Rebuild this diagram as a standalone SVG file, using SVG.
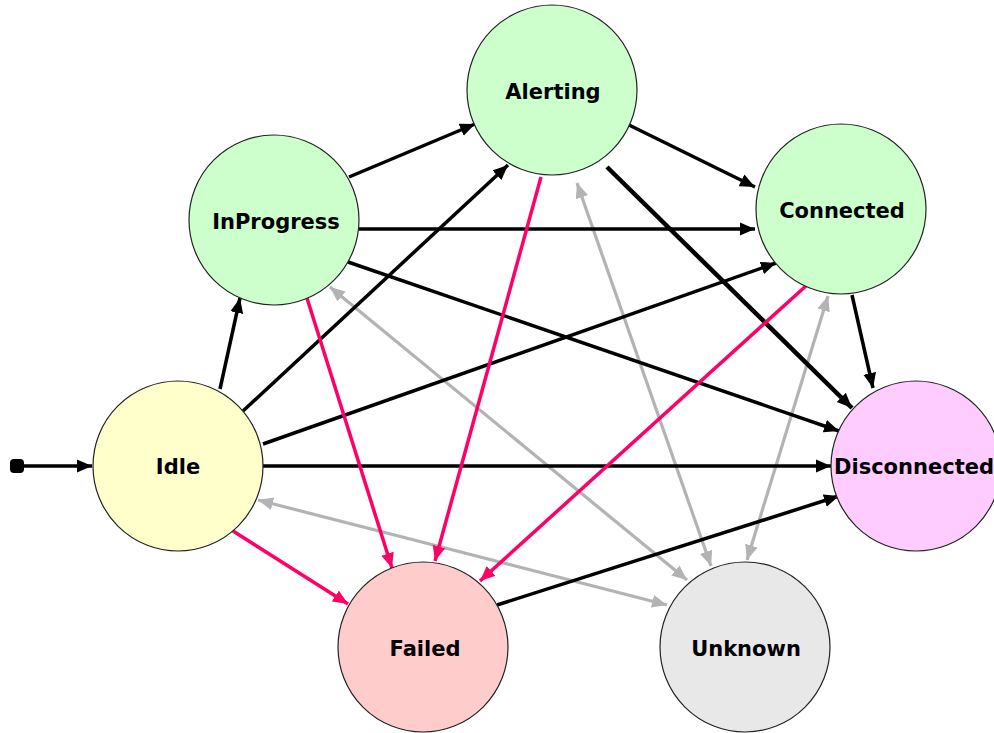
<svg xmlns="http://www.w3.org/2000/svg" width="994" height="733" viewBox="0 0 994 733">
<style>
.node circle{stroke:#222;stroke-width:1.2}
.node text{font-family:"DejaVu Sans","Liberation Sans",sans-serif;font-weight:bold;font-size:21px;text-anchor:middle;fill:#000}
.green{fill:#ccffcc}.yellow{fill:#ffffcc}.red{fill:#ffcccc}.grey{fill:#e8e8e8}.pink{fill:#ffccff}
.k{stroke:#000;stroke-width:3.5;fill:none;marker-end:url(#ak)}
.p{stroke:#ff0066;stroke-width:3.5;fill:none;marker-end:url(#ap)}
.g{stroke:#b3b3b3;stroke-width:3.2;fill:none;marker-end:url(#ag);marker-start:url(#ag)}
</style>
<defs>
<marker id="ak" markerUnits="userSpaceOnUse" markerWidth="16" markerHeight="14" refX="15" refY="6.5" orient="auto-start-reverse" viewBox="0 0 16 13"><path d="M0,0 L15,6.5 L0,13 z" fill="#000"/></marker>
<marker id="ap" markerUnits="userSpaceOnUse" markerWidth="16" markerHeight="14" refX="15" refY="6.5" orient="auto-start-reverse" viewBox="0 0 16 13"><path d="M0,0 L15,6.5 L0,13 z" fill="#ff0066"/></marker>
<marker id="ag" markerUnits="userSpaceOnUse" markerWidth="16" markerHeight="14" refX="15" refY="6.5" orient="auto-start-reverse" viewBox="0 0 16 13"><path d="M0,0 L15,6.5 L0,13 z" fill="#b3b3b3"/></marker>
</defs>
<rect width="994" height="733" fill="#fff"/>
<g id="connectors">
<rect x="10" y="459" width="14" height="14" rx="4" fill="#000"/>
<line class="k" x1="17" y1="466" x2="92" y2="466"/>
<line class="g" x1="330" y1="287" x2="687" y2="580"/>
<line class="g" x1="258" y1="500" x2="667" y2="605"/>
<line class="g" x1="577" y1="183" x2="711" y2="566"/>
<line class="g" x1="828" y1="296" x2="747" y2="560"/>
<line class="k" x1="220" y1="389" x2="240" y2="298"/>
<line class="k" x1="243" y1="411" x2="508" y2="165"/>
<line class="k" x1="263" y1="444" x2="776" y2="263"/>
<line class="k" x1="263" y1="466" x2="831" y2="466"/>
<line class="k" x1="349" y1="177" x2="475" y2="124"/>
<line class="k" x1="359" y1="229" x2="755" y2="229"/>
<line class="k" x1="348" y1="262" x2="839" y2="431"/>
<line class="k" x1="629" y1="125" x2="755" y2="187"/>
<line class="k" x1="607" y1="167" x2="852" y2="408" style="stroke-width:4.5"/>
<line class="k" x1="852" y1="295" x2="873" y2="388"/>
<line class="k" x1="497" y1="605" x2="839" y2="496"/>
<line class="p" x1="233" y1="531" x2="348" y2="604"/>
<line class="p" x1="306" y1="295" x2="392" y2="568"/>
<line class="p" x1="541" y1="177" x2="435" y2="561"/>
<line class="p" x1="807" y1="285" x2="480" y2="581"/>
</g>
<g id="Alerting" class="node"><circle class="green" cx="552" cy="90" r="85"/><text x="553" y="99">Alerting</text></g>
<g id="InProgress" class="node"><circle class="green" cx="274" cy="220" r="85"/><text x="276" y="229">InProgress</text></g>
<g id="Connected" class="node"><circle class="green" cx="841" cy="209" r="85"/><text x="842" y="218">Connected</text></g>
<g id="Idle" class="node"><circle class="yellow" cx="178" cy="466" r="85"/><text x="178" y="474">Idle</text></g>
<g id="Disconnected" class="node"><circle class="pink" cx="916" cy="466" r="85"/><text x="914" y="474">Disconnected</text></g>
<g id="Failed" class="node"><circle class="red" cx="423" cy="647" r="85"/><text x="425" y="656">Failed</text></g>
<g id="Unknown" class="node"><circle class="grey" cx="745" cy="647" r="85"/><text x="746" y="656">Unknown</text></g>
</svg>
